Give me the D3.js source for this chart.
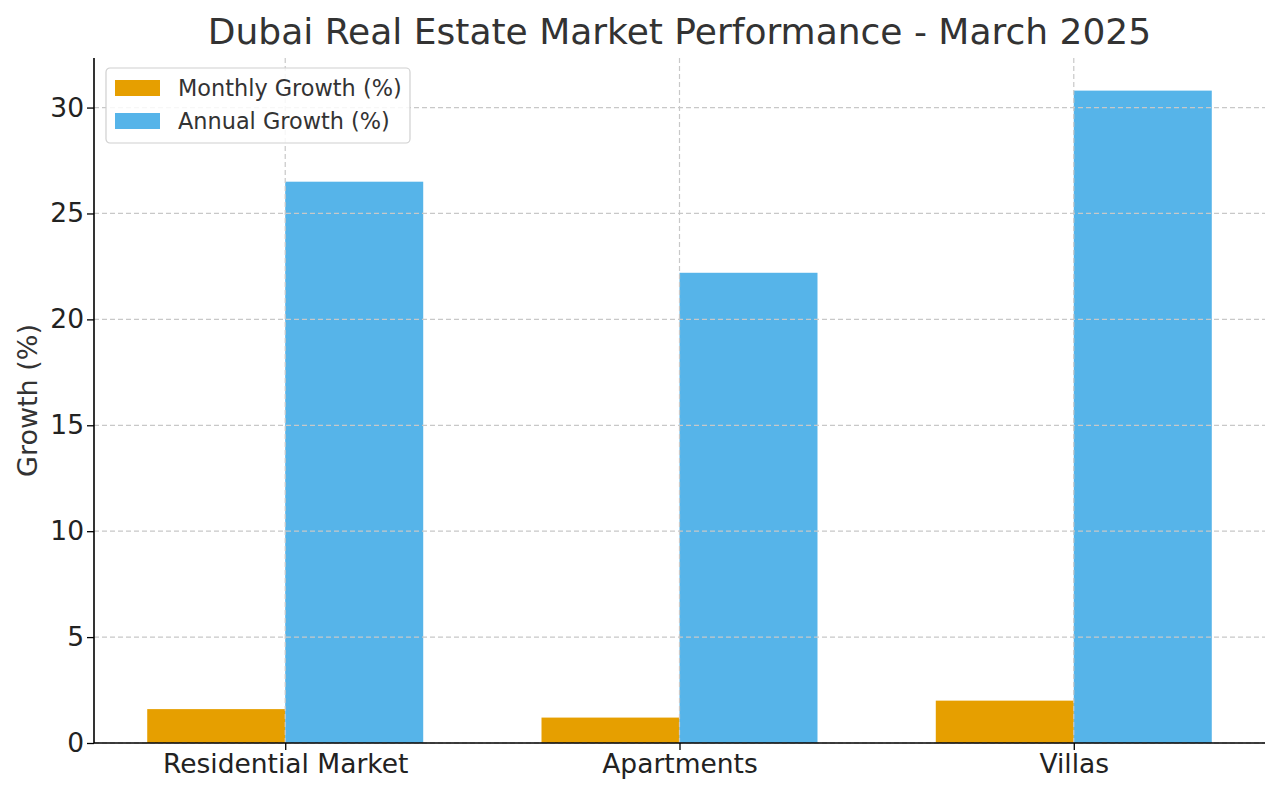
<!DOCTYPE html>
<html>
<head>
<meta charset="utf-8">
<script src="https://cdn.jsdelivr.net/npm/d3@7"></script>
<style>
  body { margin: 0; background: #fff; }
  text { font-family: "DejaVu Sans", sans-serif; }
</style>
</head>
<body>
<div id="chart"></div>
<script>
// chart data
let categories = ["Residential Market", "Apartments", "Villas"]
let monthlyGrowth = [1.6, 1.2, 2.0]
let annualGrowth = [26.5, 22.2, 30.8]
let seriesNames = ["Monthly Growth (%)", "Annual Growth (%)"]
let yTicks = [0, 5, 10, 15, 20, 25, 30]
let colors = ["#E69F00", "#56B4E9"]

let width = 1280, height = 794
let margin = {top: 58, right: 15, bottom: 51, left: 94}
let innerW = width - margin.left - margin.right
let innerH = height - margin.top - margin.bottom

let svg = d3.select("#chart").append("svg")
    .attr("width", width)
    .attr("height", height)

let g = svg.append("g")
    .attr("transform", `translate(${margin.left}, ${margin.top})`)

// scales: categories at 0,1,2 with bar width 0.35, matplotlib-like padding
let barW = 0.35
let x = d3.scaleLinear().domain([-0.485, 2.485]).range([0, innerW])
let y = d3.scaleLinear().domain([0, 30.8 * 1.05]).range([innerH, 0])

// bars
let series = [monthlyGrowth, annualGrowth]
series.forEach((vals, s) => {
    g.selectAll(".bar-" + s)
        .data(vals)
        .enter()
        .append("rect")
        .attr("class", "bar-" + s)
        .attr("x", (d, i) => x(s === 0 ? i - barW : i))
        .attr("width", x(barW) - x(0))
        .attr("y", d => y(d))
        .attr("height", d => y(0) - y(d))
        .attr("fill", colors[s])
})

// grid lines (drawn on top of bars like the original)
let grid = g.append("g").attr("class", "grid")
grid.selectAll(".hgrid")
    .data(yTicks)
    .enter()
    .append("line")
    .attr("x1", 0).attr("x2", innerW)
    .attr("y1", d => y(d)).attr("y2", d => y(d))
    .attr("stroke", "#c8c8c8")
    .attr("stroke-width", 1.2)
    .attr("stroke-dasharray", "5,3")
grid.selectAll(".vgrid")
    .data(categories)
    .enter()
    .append("line")
    .attr("y1", 0).attr("y2", innerH)
    .attr("x1", (d, i) => x(i)).attr("x2", (d, i) => x(i))
    .attr("stroke", "#c8c8c8")
    .attr("stroke-width", 1.2)
    .attr("stroke-dasharray", "5,3")

// axes
let yAxis = d3.axisLeft(y).tickValues(yTicks).tickSize(7).tickPadding(3)
let xAxis = d3.axisBottom(x).tickValues([0, 1, 2]).tickFormat(i => categories[i]).tickSize(7).tickPadding(4)

let yg = g.append("g").call(yAxis)
let xg = g.append("g").attr("transform", `translate(0, ${innerH})`).call(xAxis)

;[yg, xg].forEach(a => {
    a.select(".domain").attr("stroke", "#000").attr("stroke-width", 1.6)
    a.selectAll(".tick line").attr("stroke", "#000").attr("stroke-width", 1.3)
    a.selectAll(".tick text")
        .attr("fill", "#222")
        .style("font-size", "26.5px")
        .style("font-family", "DejaVu Sans")
})
yg.select(".domain").attr("d", `M0,${innerH}V0`)
xg.select(".domain").attr("d", `M0,0H${innerW}`)

// title and axis label
svg.append("text")
    .attr("x", margin.left + innerW / 2)
    .attr("y", 44)
    .attr("text-anchor", "middle")
    .attr("fill", "#333")
    .style("font-size", "36px")
    .text("Dubai Real Estate Market Performance - March 2025")

svg.append("text")
    .attr("transform", `translate(37, ${margin.top + innerH / 2}) rotate(-90)`)
    .attr("text-anchor", "middle")
    .attr("fill", "#333")
    .style("font-size", "27px")
    .text("Growth (%)")

// legend
let legend = g.append("g").attr("transform", "translate(12, 10)")
legend.append("rect")
    .attr("width", 304).attr("height", 75)
    .attr("rx", 4)
    .attr("fill", "#fff").attr("fill-opacity", 0.85)
    .attr("stroke", "#d0d0d0").attr("stroke-width", 1.2)

seriesNames.forEach((name, i) => {
    let row = legend.append("g").attr("transform", `translate(9, ${12 + i * 33})`)
    row.append("rect")
        .attr("width", 45).attr("height", 16)
        .attr("fill", colors[i])
    row.append("text")
        .attr("x", 63).attr("y", 16)
        .attr("fill", "#333")
        .style("font-size", "22.4px")
        .text(name)
})
</script>
</body>
</html>
